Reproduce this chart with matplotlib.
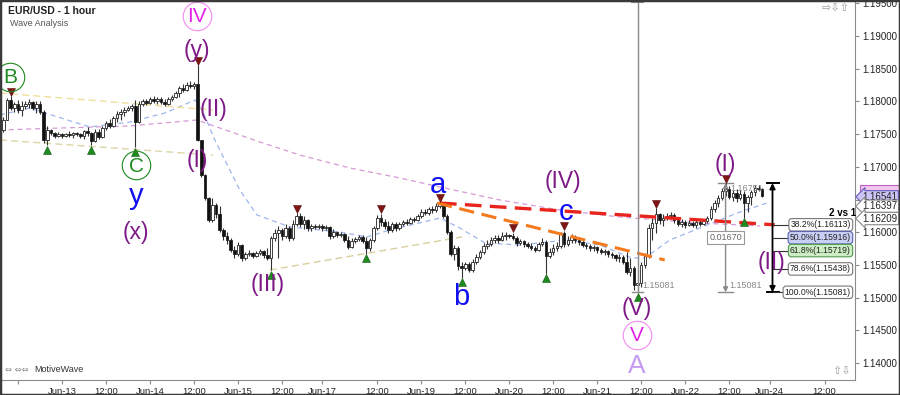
import numpy as np
import matplotlib
matplotlib.use("Agg")
import matplotlib.pyplot as plt
import matplotlib.transforms as mtransforms
from matplotlib.patches import Rectangle

plt.rcParams['font.family'] = ['Liberation Sans', 'DejaVu Sans']

# EUR/USD 1 hour bars, pips above 1.15000 (open = previous close)
first_open = 256
close_pips = [272, 302, 290, 296, 287, 293, 296, 299, 290, 296,
              284, 241, 256, 252, 247, 250, 247, 250, 249, 252,
              250, 247, 255, 252, 239, 253, 246, 259, 267, 262,
              275, 281, 284, 287, 290, 293, 268, 296, 301, 298,
              304, 301, 304, 299, 296, 304, 307, 313, 320, 317,
              325, 324, 327, 241, 187, 152, 119, 142, 128, 103,
              94, 88, 73, 67, 80, 60, 67, 68, 64, 68,
              71, 65, 60, 91, 99, 103, 94, 106, 91, 113,
              125, 113, 119, 106, 109, 108, 109, 106, 108, 94,
              100, 96, 97, 88, 77, 86, 90, 93, 86, 76,
              88, 106, 122, 116, 109, 103, 113, 106, 113, 116,
              114, 120, 119, 125, 131, 129, 135, 134, 140, 143,
              125, 100, 67, 76, 48, 45, 51, 42, 54, 62,
              70, 79, 82, 88, 91, 88, 94, 96, 94, 91,
              83, 86, 82, 79, 76, 73, 82, 85, 64, 70,
              76, 79, 99, 82, 88, 93, 88, 85, 80, 79,
              76, 77, 73, 70, 71, 67, 65, 60, 62, 54,
              39, 45, 19, 22, 50, 64, 106, 114, 128, 119,
              122, 125, 126, 119, 113, 116, 111, 114, 111, 116,
              113, 117, 122, 135, 145, 152, 163, 166, 154, 160,
              152, 158, 145, 154, 161, 168, 166, 156]
high_pips = [276, 305, 308, 299, 302, 301, 301, 304, 301, 301,
             301, 287, 262, 258, 253, 253, 252, 252, 255, 253,
             253, 252, 256, 261, 253, 258, 258, 262, 270, 273,
             278, 285, 288, 291, 293, 296, 302, 301, 304, 304,
             307, 308, 307, 307, 304, 307, 310, 316, 324, 327,
             330, 331, 330, 355, 241, 189, 154, 152, 145, 140,
             106, 100, 91, 79, 85, 82, 70, 73, 70, 71,
             74, 73, 76, 94, 105, 109, 106, 113, 109, 119,
             129, 129, 125, 120, 113, 113, 113, 113, 111, 109,
             105, 102, 100, 99, 94, 91, 93, 96, 96, 93,
             91, 109, 126, 128, 120, 117, 116, 116, 116, 119,
             120, 123, 123, 128, 135, 135, 138, 140, 145, 145,
             143, 128, 103, 80, 79, 54, 54, 54, 59, 67,
             73, 83, 88, 93, 96, 96, 100, 100, 98, 99,
             94, 90, 88, 85, 83, 79, 85, 91, 88, 76,
             82, 85, 101, 102, 94, 97, 96, 93, 88, 83,
             82, 80, 79, 76, 74, 73, 70, 67, 67, 65,
             70, 60, 48, 42, 54, 68, 113, 122, 137, 129,
             128, 129, 131, 129, 122, 120, 119, 119, 117, 119,
             119, 120, 125, 140, 149, 157, 168, 175, 171, 165,
             166, 165, 163, 157, 165, 172, 172, 168]
low_pips = [253, 272, 287, 284, 282, 278, 288, 290, 287, 282,
            281, 236, 233, 249, 244, 246, 244, 246, 246, 244,
            247, 244, 242, 247, 233, 238, 242, 244, 256, 259,
            261, 268, 272, 278, 285, 285, 230, 267, 293, 294,
            296, 298, 296, 296, 293, 294, 301, 305, 307, 314,
            316, 320, 319, 239, 184, 149, 116, 116, 122, 100,
            88, 82, 70, 60, 64, 56, 57, 64, 60, 62,
            65, 60, 57, 42, 86, 60, 88, 91, 86, 88,
            109, 108, 105, 102, 102, 105, 105, 102, 103, 90,
            91, 93, 93, 85, 74, 76, 83, 86, 83, 67,
            71, 85, 103, 109, 105, 99, 100, 102, 103, 109,
            111, 113, 116, 117, 122, 126, 126, 129, 131, 137,
            122, 97, 64, 57, 42, 30, 42, 39, 39, 51,
            59, 67, 74, 79, 83, 83, 86, 88, 91, 88,
            79, 80, 77, 76, 73, 70, 71, 79, 36, 60,
            65, 71, 76, 77, 79, 83, 83, 80, 77, 74,
            71, 71, 68, 67, 65, 62, 60, 56, 54, 51,
            36, 33, 12, 8, 16, 45, 60, 88, 99, 113,
            109, 119, 120, 114, 109, 108, 106, 109, 108, 106,
            109, 111, 114, 119, 131, 138, 149, 155, 151, 148,
            146, 149, 122, 131, 142, 155, 163, 154]

# time axis: bar index of each tick and its label
tick_bars = [4, 16, 28, 40, 52, 64, 76, 87, 102, 114, 126, 138, 150, 162, 174, 186, 198, 209, 224]
tick_labels = ['', 'Jun-13', '12:00', 'Jun-14', '12:00', 'Jun-15', '12:00', 'Jun-17', '12:00',
               'Jun-19', '12:00', 'Jun-20', '12:00', 'Jun-21', '12:00', 'Jun-22', '12:00',
               'Jun-24', '12:00']

# swing markers
swing_high_bars = [2, 53, 80, 103, 119, 139, 153, 178, 197]
swing_low_bars = [12, 24, 36, 73, 99, 125, 148, 173, 202]

# moving averages (knots)
ma_slow_bars = [-0.9, 15.5, 34.6, 52.8, 59.1, 70.0, 80.9, 94.5, 108.2, 119.1, 135.5, 151.8,
                168.2, 179.1, 190.0, 206.4]
ma_slow = [1.17563, 1.17593, 1.17624, 1.17716, 1.17593, 1.17379, 1.17180, 1.16982, 1.16829,
           1.16691, 1.16492, 1.16339, 1.16232, 1.16186, 1.16141, 1.16095]
ma_fast_bars = [-0.9, 7.3, 11.4, 23.6, 34.6, 44.1, 52.3, 54.5, 57.7, 64.5, 69.2, 78.2, 91.8,
                99.2, 105.5, 119.1, 124.5, 131.4, 140.9, 153.7, 162.7, 171.4, 175.0, 181.8,
                190.0, 200.9, 208.3]
ma_fast = [1.17792, 1.17899, 1.17823, 1.17609, 1.17685, 1.17823, 1.18021, 1.17838, 1.17410,
           1.16645, 1.16263, 1.16080, 1.16003, 1.15927, 1.16034, 1.16217, 1.16064, 1.15835,
           1.15804, 1.15881, 1.15804, 1.15606, 1.15606, 1.15881, 1.16064, 1.16309, 1.16446]

# trend lines: (bars, prices)
line_top = ([-0.9, 57.2], [1.18128, 1.17869])
line_low = ([-0.9, 57.2], [1.17410, 1.17180])
line_mid = ([72.7, 125.1], [1.15422, 1.15927])
line_red = ([119.1, 210.4], [1.16446, 1.16113])
line_orange = ([118.3, 180.4], [1.16446, 1.15575])

# measured move / retracement
wave_high = 1.16751
wave_low = 1.15081
fib_ratios = [0.382, 0.5, 0.618, 0.786, 1.0]
fib_fills = ['white', '#c9cff5', '#cdeec4', 'white', 'white']
fib_edges = ['#777777', '#5a64b0', '#4f9a4f', '#777777', '#777777']
hidden_tag = 1.16641
price_tags = [1.16541, 1.16397, 1.16209]
tag_fills = ['#cbc4f4', 'white', 'white']
tag_edges = ['#6a5cc0', '#888888', '#888888']

PURPLE = '#7d1a86'
BLUE = '#1010f0'
GREEN = '#1f8a1f'
MAGENTA = '#e323e6'
# wave labels: text, bar, price, colour, size, ring colour
wave_labels = [
    ('B', 1.8, 1.18358, GREEN, 15, GREEN),
    ('IV', 52.8, 1.19291, MAGENTA, 15, '#f08cf0'),
    ('(y)', 52.8, 1.18786, PURPLE, 16.5, None),
    ('(II)', 57.2, 1.17869, PURPLE, 16.5, None),
    ('(I)', 52.8, 1.17104, PURPLE, 16.5, None),
    ('C', 36.2, 1.17012, GREEN, 15, GREEN),
    ('y', 36.2, 1.16560, BLUE, 21, None),
    ('(x)', 36.2, 1.16003, PURPLE, 16.5, None),
    ('(III)', 72.2, 1.15193, PURPLE, 16.5, None),
    ('a', 118.5, 1.16722, BLUE, 21, None),
    ('b', 124.8, 1.15009, BLUE, 21, None),
    ('(IV)', 152.6, 1.16768, PURPLE, 16.5, None),
    ('c', 153.5, 1.16309, BLUE, 21, None),
    ('(V)', 172.8, 1.14826, PURPLE, 16.5, None),
    ('V', 172.8, 1.14413, MAGENTA, 15, '#f08cf0'),
    ('A', 172.8, 1.13954, '#c69cf2', 19, None),
    ('(I)', 196.8, 1.17028, PURPLE, 16.5, None),
    ('(II)', 209.4, 1.15544, PURPLE, 16.5, None),
]


def to_price(p):
    return 1.15 + np.asarray(p, dtype=float) / 10000.0


closes = to_price(close_pips)
highs = to_price(high_pips)
lows = to_price(low_pips)
opens = np.concatenate([[to_price(first_open)], closes[:-1]])
bars = np.arange(len(closes))

fig = plt.figure(figsize=(9, 3.95), dpi=100)
ax = fig.add_axes([2 / 900, 15 / 395, 853 / 900, 378 / 395])
ax.set_xlim(-0.35, 232.3)
ax.set_ylim(1.13740, 1.19520)

# moving averages and trend lines
ax.plot(ma_slow_bars, ma_slow, color='#d69ad6', lw=0.9, dashes=(4, 3), zorder=2)
ax.plot(ma_fast_bars, ma_fast, color='#9fb5ee', lw=0.9, dashes=(4, 3), zorder=2)
ax.plot(*line_top, color='#efdf9c', lw=1.0, dashes=(5, 3), zorder=2)
ax.plot(*line_low, color='#ddd5a5', lw=1.0, dashes=(5, 3), zorder=2)
ax.plot(*line_mid, color='#d9cf9e', lw=1.0, dashes=(5, 3), zorder=2)

# candles
ax.vlines(bars, lows, highs, color='#333333', lw=0.8, zorder=3)
for x, o, c in zip(bars, opens, closes):
    lo, hi = min(o, c), max(o, c)
    h = max(hi - lo, 0.00006)
    up = c > o
    ax.add_patch(Rectangle((x - 0.34, lo), 0.68, h, facecolor='white' if up else '#111111',
                           edgecolor='#222222', lw=0.6, zorder=3))

ax.plot(*line_red, color='#e8241c', lw=2.4, dashes=(5, 2.5), zorder=4)
ax.plot(*line_orange, color='#f47a1e', lw=2.2, dashes=(5, 2.5), zorder=4)

# swing markers
down_off = mtransforms.offset_copy(ax.transData, fig=fig, y=3.2, units='points')
up_off = mtransforms.offset_copy(ax.transData, fig=fig, y=-3.2, units='points')
ax.plot(swing_high_bars, highs[swing_high_bars], 'v', color='#7e1616', ms=6,
        mec='#5a0c0c', mew=0.4, transform=down_off, zorder=5)
ax.plot(swing_low_bars, lows[swing_low_bars], '^', color='#1f8a1f', ms=6,
        mec='#105a10', mew=0.4, transform=up_off, zorder=5)

# wave labels
for text, x, y, col, size, ring in wave_labels:
    ax.text(x, y, text, color=col, fontsize=size, ha='center', va='center', zorder=6)
    if ring:
        ax.plot(x, y + 0.0002, 'o', mfc='none', mec=ring, ms=20.5, mew=0.8, zorder=6)

grey = '#8a8a8a'
ytop = ax.get_ylim()[1]
# measurement from wave (V) low to the top
vx = swing_low_bars[7]
ax.plot([vx, vx], [wave_low, ytop], color=grey, lw=1.0, zorder=4)
ax.plot([vx - 1.6, vx + 1.6], [ytop - 0.00005, ytop - 0.00005], color=grey, lw=1.5, zorder=4)
ax.plot([vx - 1.6, vx + 1.6], [wave_low, wave_low], color=grey, lw=1.0, zorder=4)
ax.text(vx + 1.4, wave_low + 0.00035, f'{wave_low:.5f}', color='#888888', fontsize=6.5,
        ha='left', va='bottom', zorder=6)

# measurement from wave (I) high to wave (V) low
mx = swing_high_bars[8]
ax.annotate('', xy=(mx, wave_low), xytext=(mx, wave_high),
            arrowprops=dict(arrowstyle='<|-|>', color=grey, lw=1.0, mutation_scale=7,
                            shrinkA=0, shrinkB=0), zorder=4)
for yy in (wave_high, wave_low):
    ax.plot([mx - 2.0, mx + 1.9], [yy, yy], color=grey, lw=1.0, zorder=4)
ax.text(mx + 1.4, wave_high - 0.00015, f'{wave_high:.5f}', color='#888888', fontsize=6.5,
        ha='left', va='top', zorder=6)
ax.text(mx + 1.0, wave_low + 0.00035, f'{wave_low:.5f}', color='#888888', fontsize=6.5,
        ha='left', va='bottom', zorder=6)
ax.text(mx, (wave_high + wave_low) / 2, f'{wave_high - wave_low:.5f}', color='#666666',
        fontsize=6.5, ha='center', va='center', zorder=6,
        bbox=dict(boxstyle='square,pad=0.25', fc='white', ec='#999999', lw=0.8))

# retracement tool
fx = 209.8
ax.annotate('', xy=(fx, wave_low), xytext=(fx, wave_high),
            arrowprops=dict(arrowstyle='<|-|>', color='black', lw=1.3, mutation_scale=8,
                            shrinkA=0, shrinkB=0), zorder=5)
for yy in (wave_high, wave_low):
    ax.plot([fx - 1.6, fx + 1.9], [yy, yy], color='black', lw=1.4, zorder=5)
for r, fc, ec in zip(fib_ratios, fib_fills, fib_edges):
    lvl = wave_high - r * (wave_high - wave_low)
    ax.plot([fx, 215.5], [lvl, lvl], color='#333333', lw=0.8, zorder=5)
    ax.text(231.2, lvl, f'{r * 100:.1f}%({lvl:.5f})', fontsize=6.2, color='#222222',
            ha='right', va='center', zorder=7,
            bbox=dict(boxstyle='round,pad=0.2,rounding_size=0.35', fc=fc, ec=ec, lw=0.8))
ax.text(232.6, 1.16300, '2 vs 1', fontsize=7, fontweight='bold', ha='right', va='center',
        zorder=7, clip_on=False)

# axes styling
for side in ('left', 'top'):
    ax.spines[side].set_visible(False)
ax.spines['right'].set_color('#8c8c8c')
ax.spines['bottom'].set_color('#8c8c8c')
ax.yaxis.tick_right()
yt = np.arange(1.140, 1.1951, 0.005)
ax.set_yticks(yt, ['' if abs(v - 1.165) < 1e-6 else f'{v:.5f}' for v in yt])
ax.set_xticks(tick_bars, tick_labels)
ax.tick_params(axis='y', direction='out', length=3, pad=2, labelsize=7, colors='#8c8c8c',
               labelcolor='#222222')
ax.tick_params(axis='x', direction='out', length=3, pad=2, labelsize=6.8, colors='#8c8c8c',
               labelcolor='#222222')

# price tags on the price axis; the pink one sits mostly behind the current price
tag_tr = mtransforms.blended_transform_factory(ax.transAxes, ax.transData)
ax.add_patch(Rectangle((1.006, hidden_tag - 0.0008), 0.047, 0.0016, transform=tag_tr,
                       fc='#f1c6ef', ec='#c060c0', lw=0.8, clip_on=False, zorder=7))
for p, fc, ec in zip(price_tags, tag_fills, tag_edges):
    ax.text(1.0085, p, f'{p:.5f}', transform=tag_tr, fontsize=7, color='#222222',
            ha='left', va='center', clip_on=False, zorder=8,
            bbox=dict(boxstyle='larrow,pad=0.12', fc=fc, ec=ec, lw=0.8))

# header, footer and icons
fig.text(8 / 900, 1 - 11 / 395, 'EUR/USD - 1 hour', fontsize=7.5, fontweight='bold',
         va='center', color='#222222')
fig.text(10 / 900, 1 - 24 / 395, 'Wave Analysis', fontsize=6.5, va='center', color='#555555')
fig.text(5 / 900, 1 - 370 / 395, '\u21d4 \u21d4\u21d4', fontsize=6, va='center', color='#888888',
         family='DejaVu Sans')
fig.text(34 / 900, 1 - 370 / 395, 'MotiveWave', fontsize=6.5, va='center', color='#333333')
fig.text(822 / 900, 1 - 8 / 395, '\u21e8\u21e9\u21e7', fontsize=8, va='center', color='#999999',
         family='DejaVu Sans')
fig.text(832 / 900, 1 - 371 / 395, '\u21e7\u21e9', fontsize=8, va='center', color='#999999',
         family='DejaVu Sans')

fig.patches.append(Rectangle((0, 0), 1, 1, transform=fig.transFigure, fill=False,
                             ec='#3a3a3a', lw=2.5))

fig.savefig('out.png', dpi=100)
